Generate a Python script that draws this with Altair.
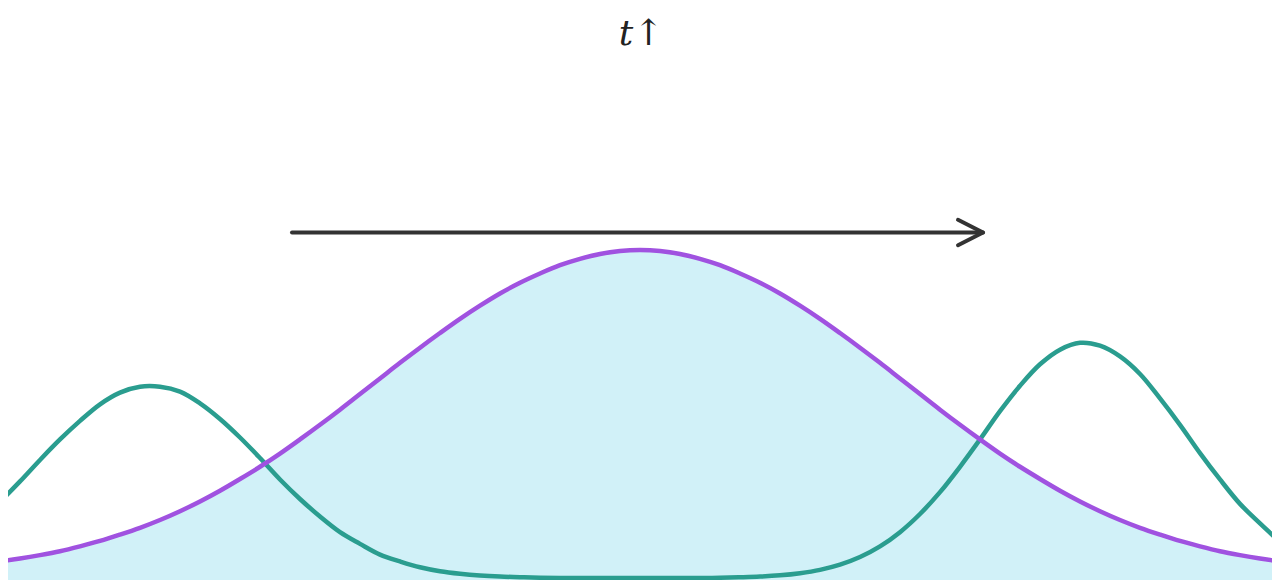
import altair as alt
import pandas as pd

# sample positions (horizontal, in chart units)
xs = [0, 20, 40, 60, 80, 100, 120, 140, 160, 180, 200, 220, 240, 260, 280, 300,
      320, 340, 360, 380, 400, 420, 440, 460, 480, 500, 520, 540, 560, 580, 600, 620,
      640, 660, 680, 700, 720, 740, 760, 780, 800, 820, 840, 860, 880, 900, 920, 940,
      960, 980, 1000, 1020, 1040, 1060, 1080, 1100, 1120, 1140, 1160, 1180, 1200, 1220,
      1240, 1260, 1280]

# purple bell curve (height above bottom), left half up to the peak at 640
purple_left = [19, 22, 25.5, 29.5, 34.5, 40, 46.5, 53.5, 61.5, 70.5, 80.5, 91.5, 103.5, 116,
               129.5, 144, 159, 174.5, 190.5, 206.5, 222.5, 238, 253, 267.5, 281, 293.5,
               304.5, 314, 322.5, 329, 334, 337, 338]
purple = purple_left + purple_left[-2::-1]

# teal two-peak curve (height above bottom)
teal = [80, 101, 123, 144, 163, 180, 192, 198, 198, 193, 181, 165, 146, 125, 103, 83,
        65, 49, 37, 26, 19, 13, 9, 6.4, 4.6, 3.5, 2.9, 2.3, 2, 2, 2, 2,
        2, 2, 2, 2, 2.3, 2.8, 3.5, 4.8, 7, 10.4, 15.7, 23.5, 34.4, 49, 67.6, 90,
        116, 144, 173, 199, 221, 236, 243, 240, 229, 211, 186, 159, 130, 103,
        78, 58, 39]

# arrow (shaft and open head)
arrow_x = [292, 983]
arrow_y = [356, 356]
head_x = [958, 983, 958]
head_y = [369, 356, 343]

label_text = ["t\u2191"]
label_x = [641]
label_y = [548]

df = pd.DataFrame({"x": xs, "purple": purple, "teal": teal})
df_arrow = pd.DataFrame({"x": arrow_x, "y": arrow_y})
df_head = pd.DataFrame({"x": head_x, "y": head_y, "o": [0, 1, 2]})
df_label = pd.DataFrame({"x": label_x, "y": label_y, "t": label_text})

X0, X1 = 8, 1272
W, H = 1264, 572

xsc = alt.Scale(domain=[X0, X1], nice=False, zero=False)
ysc = alt.Scale(domain=[0, 586], nice=False, zero=False)
xenc = alt.X("x:Q", scale=xsc, axis=None)

area = alt.Chart(df).mark_area(color="#D1F1F8", interpolate="catmull-rom", clip=True).encode(
    x=xenc, y=alt.Y("purple:Q", scale=ysc, axis=None)
)
teal_line = alt.Chart(df).mark_line(color="#2A9D8F", strokeWidth=4.5, interpolate="catmull-rom", clip=True).encode(
    x=xenc, y=alt.Y("teal:Q", scale=ysc, axis=None)
)
purple_line = alt.Chart(df).mark_line(color="#A052E0", strokeWidth=4.5, interpolate="catmull-rom", clip=True).encode(
    x=xenc, y=alt.Y("purple:Q", scale=ysc, axis=None)
)
arrow = alt.Chart(df_arrow).mark_line(color="#333333", strokeWidth=4, strokeCap="round").encode(
    x=xenc, y=alt.Y("y:Q", scale=ysc, axis=None)
)
head = alt.Chart(df_head).mark_line(color="#333333", strokeWidth=4, strokeCap="round", strokeJoin="round").encode(
    x=xenc, y=alt.Y("y:Q", scale=ysc, axis=None), order="o:Q"
)
label = alt.Chart(df_label).mark_text(
    font="DejaVu Serif", fontStyle="italic", fontSize=36, color="#222222",
    baseline="alphabetic", align="center"
).encode(x=xenc, y=alt.Y("y:Q", scale=ysc, axis=None), text="t:N")

chart = alt.layer(area, teal_line, purple_line, arrow, head, label).properties(
    width=W, height=H, padding=0, autosize="none", background="white"
).configure_view(stroke=None)

chart.save("out.html", embed_options={"renderer": "svg", "actions": False})
